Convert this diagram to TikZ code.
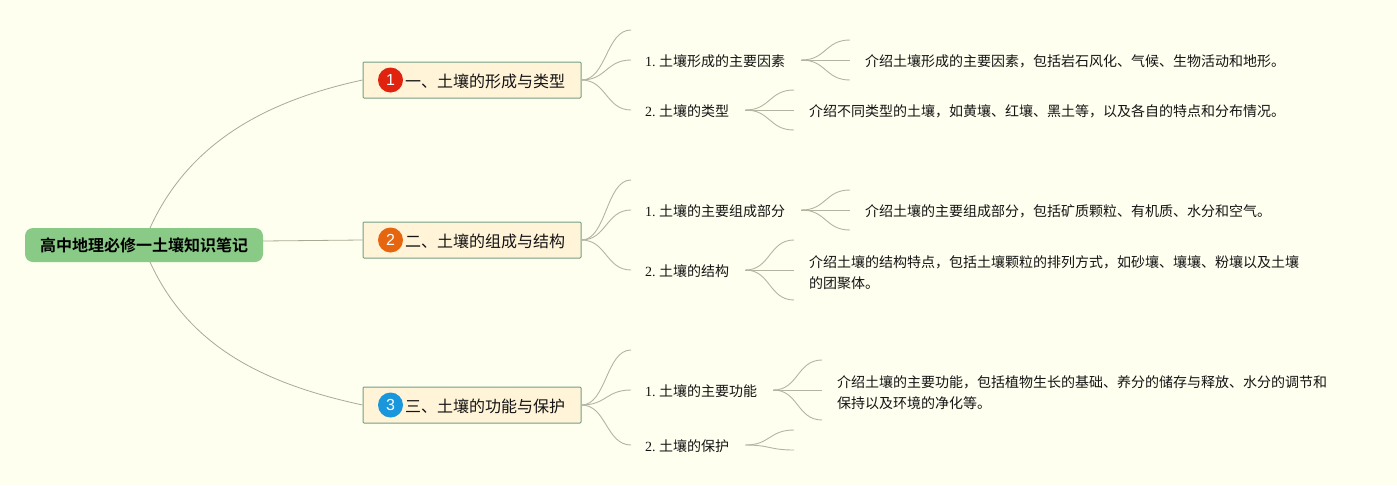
\documentclass[tikz,border=0pt]{standalone}
\usepackage{fontspec}
\usetikzlibrary{calc}
\setmainfont{Liberation Serif}
\newfontfamily\cjk{Noto Sans CJK SC}
\newfontfamily\cjkb{Noto Sans CJK SC Bold}
\newfontfamily\numf{Liberation Sans}
\definecolor{bgc}{HTML}{FFFFF0}
\definecolor{rootc}{HTML}{88CA86}
\definecolor{mainc}{HTML}{FFF3D8}
\definecolor{mainb}{HTML}{739F85}
\definecolor{linkc}{HTML}{B4B4A2}
\definecolor{linkm}{HTML}{A9A995}
\definecolor{txt}{HTML}{141414}
\definecolor{icona}{HTML}{E0230E}
\definecolor{iconb}{HTML}{E6650F}
\definecolor{iconc}{HTML}{1A96DC}
\tikzset{
  rootbox/.style={draw=none,fill=rootc,rounded corners=8pt,minimum width=238pt,minimum height=34pt,inner sep=0pt,text height=13.8pt,text depth=0pt,font=\fontsize{16}{18}\cjkb,text=black},
  mainbox/.style={draw=mainb,line width=1pt,fill=mainc,rounded corners=1pt,minimum width=218pt,minimum height=36pt,inner sep=0pt,text height=14.8pt,text depth=0pt,font=\fontsize{16}{18}\cjk,text=txt},
  icon/.style={circle,minimum size=25pt,inner sep=0pt,text=white,font=\fontsize{16}{16}\numf},
  subbox/.style={anchor=west,inner xsep=14pt,inner ysep=0pt,text height=13.6pt,text depth=0pt,font=\fontsize{14}{16}\selectfont,text=txt},
  descbox/.style={anchor=west,inner xsep=15pt,inner ysep=0pt,text height=13.6pt,text depth=0pt,font=\fontsize{14}{21}\cjk,text=txt},
  descwrap/.style={anchor=west,inner xsep=15pt,inner ysep=0pt,align=left,font=\fontsize{14}{21}\cjk,text=txt},
  link/.style={draw=linkc,line width=0.9pt},
  rootlink/.style={draw=linkm,line width=0.8pt}
}
\newcommand{\fan}[2]{\draw[link] (#1) .. controls +(25,0) and ($(#2)+(-25,0)$) .. (#2);}
\newcommand{\subtext}[2]{\mbox{#1.\hspace{3.5pt}{\cjk #2}}}
\begin{document}
\begin{tikzpicture}[x=1pt,y=-1pt]
\useasboundingbox (0,0) rectangle (1397,485);
\fill[bgc] (0,0) rectangle (1397,485);

% coordinates of free ends
\coordinate (f1a) at (631,30);
\coordinate (f2a) at (631,180);
\coordinate (f3a) at (631,350);
\coordinate (d1a) at (850,40);
\coordinate (d1c) at (850,80);
\coordinate (d2a) at (794,90);
\coordinate (d2c) at (794,130);
\coordinate (d3a) at (850,190);
\coordinate (d3c) at (850,230);
\coordinate (d4a) at (794,240);
\coordinate (d4b) at (794,270);
\coordinate (d4c) at (794,300);
\coordinate (d5a) at (822,360);
\coordinate (d5b) at (822,390);
\coordinate (d5c) at (822,420);
\coordinate (d6a) at (794,430);
\coordinate (d6b) at (794,450);
\coordinate (rt) at (150,228);
\coordinate (rb) at (150,262);
\coordinate (re) at (263,241);

\node[rootbox] (root) at (144,245) {高中地理必修一土壤知识笔记};
\node[mainbox] (m1) at (472,80) {\hspace*{26pt}一、土壤的形成与类型};
\node[mainbox] (m2) at (472,240) {\hspace*{26pt}二、土壤的组成与结构};
\node[mainbox] (m3) at (472,405) {\hspace*{26pt}三、土壤的功能与保护};
\node[icon,fill=icona] (i1) at (390.5,80) {1};
\node[icon,fill=iconb] (i2) at (390.5,240) {2};
\node[icon,fill=iconc] (i3) at (390.5,405) {3};

\node[subbox,minimum width=170pt,text width=142pt] (s11) at (631,60) {\subtext{1}{土壤形成的主要因素}};
\node[subbox,text width=86pt] (s12) at (631,110) {\subtext{2}{土壤的类型}};
\node[subbox,text width=142pt] (s21) at (631,210) {\subtext{1}{土壤的主要组成部分}};
\node[subbox,text width=86pt] (s22) at (631,270) {\subtext{2}{土壤的结构}};
\node[subbox,text width=114pt] (s31) at (631,390) {\subtext{1}{土壤的主要功能}};
\node[subbox,text width=86pt] (s32) at (631,445) {\subtext{2}{土壤的保护}};

\node[descbox] (d1) at (850,60) {介绍土壤形成的主要因素，包括岩石风化、气候、生物活动和地形。};
\node[descbox] (d2) at (794,110) {介绍不同类型的土壤，如黄壤、红壤、黑土等，以及各自的特点和分布情况。};
\node[descbox] (d3) at (850,210) {介绍土壤的主要组成部分，包括矿质颗粒、有机质、水分和空气。};
\node[descwrap] (d4) at (794,272.5) {介绍土壤的结构特点，包括土壤颗粒的排列方式，如砂壤、壤壤、粉壤以及土壤\\的团聚体。};
\node[descwrap] (d5) at (822,392.5) {介绍土壤的主要功能，包括植物生长的基础、养分的储存与释放、水分的调节和\\保持以及环境的净化等。};

% root links
\draw[rootlink] (rt) .. controls (190,140) and (270,100) .. (m1.west);
\draw[rootlink] (re) -- (m2.west);
\draw[rootlink] (rb) .. controls (190,350) and (270,385) .. (m3.west);

% main to sub
\fan{m1.east}{f1a}\fan{m1.east}{s11.west}\fan{m1.east}{s12.west}
\fan{m2.east}{f2a}\fan{m2.east}{s21.west}\fan{m2.east}{s22.west}
\fan{m3.east}{f3a}\fan{m3.east}{s31.west}\fan{m3.east}{s32.west}

% sub to desc
\fan{s11.east}{d1a}\fan{s11.east}{d1.west}\fan{s11.east}{d1c}
\fan{s12.east}{d2a}\fan{s12.east}{d2.west}\fan{s12.east}{d2c}
\fan{s21.east}{d3a}\fan{s21.east}{d3.west}\fan{s21.east}{d3c}
\fan{s22.east}{d4a}\fan{s22.east}{d4b}\fan{s22.east}{d4c}
\fan{s31.east}{d5a}\fan{s31.east}{d5b}\fan{s31.east}{d5c}
\fan{s32.east}{d6a}\fan{s32.east}{d6b}
\end{tikzpicture}
\end{document}
